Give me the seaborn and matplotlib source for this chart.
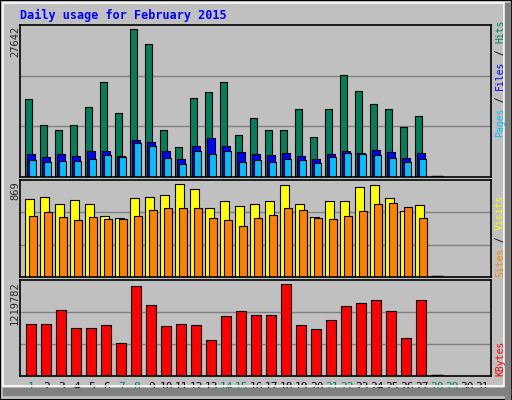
import numpy as np
import seaborn as sns
import matplotlib
matplotlib.use("Agg")
import matplotlib.pyplot as plt
from matplotlib.patches import Rectangle

days = list(range(1, 32))
weekend_days = [1, 7, 8, 14, 15, 21, 22, 28, 29]

hits = [14697, 9819, 8881, 9819, 13196, 17699, 12070, 27642, 24828, 8881, 5691, 14884, 16010, 17699,
        7942, 11132, 8881, 8881, 12821, 7567, 12821, 19012, 16198, 13759, 12821, 9443, 11507]
files = [4378, 3815, 4378, 4003, 4941, 4941, 4003, 7004, 6629, 4941, 3440, 5879, 7380, 5879,
         4753, 4378, 4190, 4565, 4003, 3440, 4378, 4941, 4565, 5128, 4753, 3627, 4565]
pages = [3252, 2877, 3064, 3064, 3440, 4190, 3815, 6442, 5879, 3627, 2502, 4941, 4378, 4941,
         2877, 3252, 2877, 3440, 3252, 2689, 3815, 4565, 4378, 4190, 3627, 2877, 3440]
visits = [728, 747, 681, 718, 681, 568, 549, 737, 747, 765, 869, 822, 643, 709,
          662, 681, 709, 860, 681, 558, 709, 709, 841, 860, 737, 615, 671]
sites = [568, 605, 558, 530, 558, 540, 540, 568, 624, 643, 643, 643, 549, 530,
         474, 549, 577, 643, 624, 549, 540, 568, 615, 681, 690, 652, 549]
kbytes = [685000, 685000, 871000, 632000, 632000, 672000, 434000, 1193000, 941000, 659000, 685000, 672000, 473000, 795000,
          862000, 809000, 809000, 1219782, 672000, 619000, 738000, 924000, 964000, 1004000, 858000, 500000, 1004000]
zero_days = [28]

BG = "#c0c0c0"
C_HITS, C_FILES, C_PAGES = "#00805c", "#0000ff", "#00c0ff"
C_VISITS, C_SITES, C_KB = "#ffff00", "#ff8000", "#ff0000"
MONO = "DejaVu Sans Mono"

sns.set_style("white")
fig = plt.figure(figsize=(5.12, 4.0), dpi=100, facecolor=BG)

# 3d-ish frame
fig.patches.append(Rectangle((0, 0), 1, 1, transform=fig.transFigure, fill=False, ec="black", lw=1.5))
fig.patches.append(Rectangle((3/512, 14/400), 501/512, 383/400, transform=fig.transFigure,
                             fill=False, ec="white", lw=1.2))
fig.patches.append(Rectangle((505/512, 0), 5/512, 397/400, transform=fig.transFigure, color="#808080"))
fig.patches.append(Rectangle((3/512, 5/400), 507/512, 7/400, transform=fig.transFigure, color="#808080"))

def panel(top, bottom):
    ax = fig.add_axes([20/512, 1 - bottom/400, 471/512, (bottom - top)/400])
    ax.set_facecolor(BG)
    ax.set_xlim(1 - 11.5/15, 1 + (491 - 31.5)/15)
    for s in ax.spines.values():
        s.set_color("black")
        s.set_linewidth(1.2)
    ax.set_yticks([])
    ax.set_xticks([])
    return ax

def grid(ax, ymax):
    ax.set_ylim(0, ymax)
    for g in (ymax/3, 2*ymax/3):
        ax.axhline(g, color="#808080", lw=1, zorder=0)

def bars(ax, vals, off, w, color):
    x = np.arange(1, len(vals) + 1) + off
    ax.bar(x, vals, width=w, color=color, edgecolor="black", linewidth=0.8, zorder=2)

def zero_marks(ax):
    for d in zero_days:
        ax.hlines(0, d - 0.4, d + 0.4, color="black", lw=2.5, zorder=3)

def side_label(parts, y_bottom):
    cw = 0.602 * 7 * 100 / 72
    y = y_bottom
    for txt, col in parts:
        fig.text(500/512, 1 - y/400, txt, color=col, rotation=90, ha="center", va="bottom",
                 family=MONO, fontsize=7)
        y -= cw * len(txt)

# hits / files / pages
ax1 = panel(25, 177)
grid(ax1, 27642 * 151.7 / 147.3)
bars(ax1, hits, -0.18, 0.47, C_HITS)
bars(ax1, files, -0.02, 0.51, C_FILES)
bars(ax1, pages, 0.09, 0.47, C_PAGES)
zero_marks(ax1)

# visits / sites
ax2 = panel(180.3, 276.7)
grid(ax2, 869 * 96.4 / 92.3)
bars(ax2, visits, -0.13, 0.56, C_VISITS)
bars(ax2, sites, 0.10, 0.49, C_SITES)
zero_marks(ax2)

# kbytes
ax3 = panel(280, 376)
grid(ax3, 1219782 * 96 / 92)
bars(ax3, kbytes, -0.02, 0.69, C_KB)
zero_marks(ax3)

ax3.set_xticks(days)
ax3.set_xticklabels([str(d) for d in days], family=MONO, fontsize=8)
ax3.tick_params(axis="x", length=0, pad=4)
for lab, d in zip(ax3.get_xticklabels(), days):
    lab.set_color(C_HITS if d in weekend_days else "black")

fig.text(20/512, 1 - 15/400, "Daily usage for February 2015", color="#0000ff", family=MONO,
         fontweight="bold", fontsize=8.5, va="center", ha="left")

for ax_top, val in ((26, "27642"), (181, "869"), (281, "1219782")):
    fig.text(15/512, 1 - ax_top/400, val, rotation=90, ha="center", va="top", family=MONO, fontsize=7.5)

side_label([("Pages", C_PAGES), (" / ", "black"), ("Files", C_FILES), (" / ", "black"), ("Hits", C_HITS)], 137)
side_label([("Sites", C_SITES), (" / ", "black"), ("Visits", C_VISITS)], 277)
side_label([("KBytes", C_KB)], 376)

fig.savefig("out.png", dpi=100, facecolor=BG)
